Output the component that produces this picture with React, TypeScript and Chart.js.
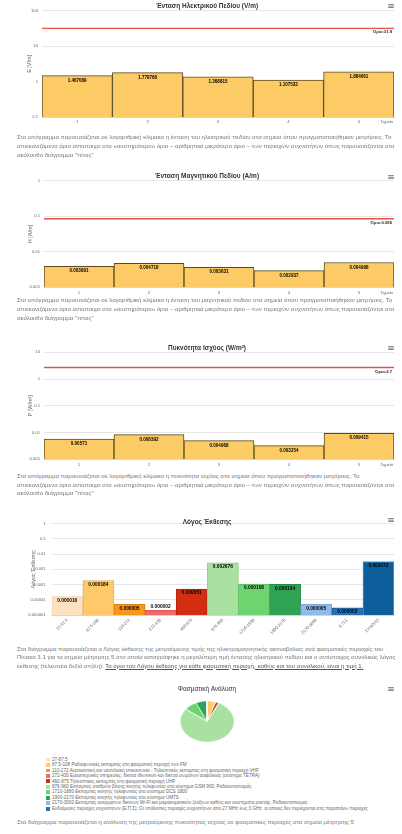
import React, { useEffect, useRef } from "react";
import { Chart, registerables } from "chart.js";

Chart.register(...registerables);

const FONT = '"Liberation Sans", Arial, Helvetica, sans-serif';

// ---- Charts 1-3: measurement points ----
const points = ["1", "2", "3", "4", "5"];
const eValues = [1.467089, 1.778768, 1.368815, 1.107533, 1.884061];
const hValues = [0.003891, 0.004718, 0.003631, 0.002937, 0.004998];
const sValues = [0.00571, 0.008392, 0.004968, 0.003254, 0.009415];
const eTicks = [0.1, 1, 10, 100];
const hTicks = [0.001, 0.01, 0.1, 1];
const sTicks = [0.001, 0.01, 0.1, 1, 10];
const eLimit = 31.9;
const hLimit = 0.085;
const sLimit = 2.7;

// ---- Chart 4: exposure ratio per band ----
const bands = ["27-87.5", "87.5-108", "110-272", "272-430", "460-875", "876-960", "1710-1880", "1900-2170", "2170-3000", "Ε.Π.Σ", "ΣΥΝΟΛΟ"];
const ratioValues = [0.000016, 0.000184, 0.000005, 0.000002, 0.000051, 0.002676, 0.000108, 0.000104, 0.000005, 0.000003, 0.003172];
const ratioTicks = [0.000001, 0.00001, 0.0001, 0.001, 0.01, 0.1, 1];

// ---- Pie: spectral analysis ----
const bandDescriptions = [
  "27-87.5",
  "87.5-108 Ραδιοφωνικές εκπομπές στη φασματική περιοχή των FM",
  "110-272 Αεροναυτική και ναυτιλιακή επικοινωνία - Τηλεοπτικές εκπομπές στη φασματική περιοχή VHF",
  "272-430 Ερασιτεχνικές υπηρεσίες, δίκτυα ιδιωτικών και δίκτυα σωμάτων ασφαλείας (σύστημα TETRA)",
  "460-875 Τηλεοπτικές εκπομπές στη φασματική περιοχή UHF",
  "876-960 Εκπομπές σταθμών βάσης κινητής τηλεφωνίας στο σύστημα GSM 900, Ραδιοεντοπισμός",
  "1710-1880 Εκπομπές κινητής τηλεφωνίας στο σύστημα DCS 1800",
  "1900-2170 Εκπομπές κινητής τηλεφωνίας στο σύστημα UMTS",
  "2170-3000 Εκπομπές ασύρματων δικτύων Wi-Fi και μικροκυματικών ζεύξεων καθώς και συστήματα ραντάρ, Ραδιοεντοπισμός",
  "Ενδιάμεσες περιοχές συχνοτήτων (Ε.Π.Σ): Οι υπόλοιπες περιοχές συχνοτήτων από 27 MHz έως 3 GHz, οι οποίες δεν περιέχονται στις παραπάνω περιοχές",
];
const pieShares = [0.3, 4.8, 0.3, 0.1, 1.7, 78, 8, 6.5, 0.2, 0.1];

const bandColors = ["#fde2c2", "#fdc96a", "#f7961c", "#f06c6a", "#d22e12", "#a9e2a0", "#6dd46f", "#2fa353", "#8fbbe6", "#2471b5", "#0f5e9c"];
const bandBorders = ["#f2cfa6", "#e9b24f", "#e07f0a", "#e05757", "#b82206", "#93d18a", "#5bc25e", "#24904a", "#7aa9d8", "#1b5f9e", "#5aa0d8"];

// ---------- plugins ----------
const limitLinePlugin = {
  id: "limitLine",
  afterDatasetsDraw(chart: any, _a: any, opts: any) {
    if (!opts || opts.value == null) return;
    const { ctx, chartArea } = chart;
    const y = chart.scales.y.getPixelForValue(opts.value);
    ctx.save();
    ctx.strokeStyle = "#e4514b";
    ctx.lineWidth = 1.3;
    ctx.beginPath();
    ctx.moveTo(chartArea.left, y);
    ctx.lineTo(chartArea.right, y);
    ctx.stroke();
    ctx.font = `bold 4.2px ${FONT}`;
    ctx.fillStyle = "#222";
    ctx.textAlign = "right";
    ctx.textBaseline = "middle";
    ctx.fillText(opts.text, chartArea.right - 2, y + 4);
    ctx.restore();
  },
};

const valueLabelsPlugin = {
  id: "valueLabels",
  afterDatasetsDraw(chart: any, _a: any, opts: any) {
    const { ctx } = chart;
    const meta = chart.getDatasetMeta(0);
    const data = chart.data.datasets[0].data;
    const size = (opts && opts.size) || 4.5;
    const off = (opts && opts.offset) || 5;
    ctx.save();
    ctx.font = `bold ${size}px ${FONT}`;
    ctx.fillStyle = "#000";
    ctx.textAlign = "center";
    ctx.textBaseline = "middle";
    meta.data.forEach((bar: any, i: number) => {
      const p = bar.getProps(["x", "y", "base"], true);
      const h = p.base - p.y;
      const ty = h < 6 ? p.y - 4 : p.y + off;
      ctx.fillText(String(data[i]), p.x, ty);
    });
    ctx.restore();
  },
};

const endLabelPlugin = {
  id: "endLabel",
  afterDraw(chart: any, _a: any, opts: any) {
    if (!opts || !opts.text) return;
    const { ctx, chartArea } = chart;
    ctx.save();
    ctx.font = `4.2px ${FONT}`;
    ctx.fillStyle = "#666";
    ctx.textAlign = "right";
    ctx.textBaseline = "middle";
    ctx.fillText(opts.text, chartArea.right - 1, chartArea.bottom + 5.2);
    ctx.restore();
  },
};

type BarCfg = {
  title: string;
  yTitle: string;
  labels: string[];
  values: number[];
  ticks: number[];
  colors: string | string[];
  borders: string | string[];
  limit?: number;
  limitText?: string;
  endText?: string;
  top: number;
  titleY: number;
  plotTop: number;
  plotBottom: number;
  plotLeft: number;
  yTitleX: number;
  xh: number;
  rotate: number;
  yTickPad: number;
  labelSize: number;
  labelOffset: number;
};

function canvasHeight(c: BarCfg) {
  return Math.ceil(c.plotBottom - c.top + c.xh);
}

function barConfig(c: BarCfg): any {
  const L = 20;
  const R = 8;
  const tfs = 6.5;
  const padTop = c.titleY - c.top - tfs / 2;
  const padBottom = c.plotTop - c.top - padTop - tfs;
  const H = canvasHeight(c);
  const xAxisH = H - (c.plotBottom - c.top);
  const yfs = 5.5;
  return {
    type: "bar",
    data: {
      labels: c.labels,
      datasets: [
        {
          data: c.values,
          backgroundColor: c.colors,
          borderColor: c.borders,
          borderWidth: 1,
          barPercentage: 1,
          categoryPercentage: 1,
        },
      ],
    },
    options: {
      responsive: false,
      animation: false,
      events: [],
      layout: { padding: { left: L, right: R, top: 0, bottom: 0 } },
      plugins: {
        legend: { display: false },
        tooltip: { enabled: false },
        title: {
          display: true,
          text: c.title,
          color: "#333",
          font: { family: FONT, size: tfs, weight: "bold", lineHeight: 1 },
          padding: { top: padTop, bottom: padBottom },
        },
        limitLine: { value: c.limit, text: c.limitText },
        valueLabels: { size: c.labelSize, offset: c.labelOffset },
        endLabel: { text: c.endText },
      },
      scales: {
        x: {
          type: "category",
          offset: true,
          grid: { display: false, drawTicks: false },
          border: { display: true, color: "#ccd6eb" },
          ticks: {
            color: "#666",
            font: { family: FONT, size: 4.2 },
            padding: 2.7,
            autoSkip: false,
            maxRotation: c.rotate,
            minRotation: c.rotate,
          },
          afterFit: (s: any) => {
            s.height = xAxisH;
          },
        },
        y: {
          type: "logarithmic",
          min: c.ticks[0],
          max: c.ticks[c.ticks.length - 1],
          afterBuildTicks: (s: any) => {
            s.ticks = c.ticks.map((v) => ({ value: v }));
          },
          ticks: {
            callback: (v: any) => String(v),
            color: "#666",
            font: { family: FONT, size: 4.2 },
            padding: c.yTickPad,
          },
          grid: { color: "#e6e6e6", drawTicks: false },
          border: { display: false },
          title: {
            display: true,
            text: c.yTitle,
            color: "#666",
            font: { family: FONT, size: yfs, lineHeight: 1 },
            padding: { top: c.yTitleX - L - yfs / 2, bottom: 0 },
          },
          afterFit: (s: any) => {
            s.width = c.plotLeft - L;
          },
        },
      },
    },
    plugins: [limitLinePlugin, valueLabelsPlugin, endLabelPlugin],
  };
}

const cfgE: BarCfg = {
  title: "Ένταση Ηλεκτρικού Πεδίου (V/m)",
  yTitle: "E [V/m]",
  labels: points,
  values: eValues,
  ticks: eTicks,
  colors: "#fdcb66",
  borders: "#5a4a22",
  limit: eLimit,
  limitText: "Όριο:" + eLimit,
  endText: "Σημεία",
  top: 0,
  titleY: 6,
  plotTop: 10.7,
  plotBottom: 117,
  plotLeft: 42,
  yTitleX: 29.5,
  xh: 8,
  rotate: 0,
  yTickPad: 4,
  labelSize: 4.5,
  labelOffset: 4.8,
};
const cfgH: BarCfg = {
  ...cfgE,
  title: "Ένταση Μαγνητικού Πεδίου (A/m)",
  yTitle: "H [A/m]",
  values: hValues,
  ticks: hTicks,
  limit: hLimit,
  limitText: "Όριο:" + hLimit,
  top: 171,
  titleY: 176.7,
  plotTop: 180.7,
  plotBottom: 287.3,
  plotLeft: 44,
  yTitleX: 30.5,
};
const cfgS: BarCfg = {
  ...cfgE,
  title: "Πυκνότητα Ισχύος (W/m²)",
  yTitle: "P [W/m²]",
  values: sValues,
  ticks: sTicks,
  limit: sLimit,
  limitText: "Όριο:" + sLimit,
  top: 342,
  titleY: 348.3,
  plotTop: 352.3,
  plotBottom: 459.3,
  plotLeft: 44,
  yTitleX: 30,
};
const cfgR: BarCfg = {
  title: "Λόγος Έκθεσης",
  yTitle: "Λόγος Έκθεσης",
  labels: bands,
  values: ratioValues,
  ticks: ratioTicks,
  colors: bandColors,
  borders: bandBorders,
  endText: "",
  top: 515,
  titleY: 520.7,
  plotTop: 521.7,
  plotBottom: 615,
  plotLeft: 51.7,
  yTitleX: 33,
  xh: 28,
  rotate: 45,
  yTickPad: 6,
  labelSize: 4.8,
  labelOffset: 4,
};

function pieConfig(): any {
  return {
    type: "pie",
    data: {
      labels: bandDescriptions,
      datasets: [
        {
          data: pieShares,
          backgroundColor: bandColors.slice(0, 10),
          borderColor: "#ffffff",
          borderWidth: 0.6,
          offset: pieShares.map((v) => (v === Math.max(...pieShares) ? 3 : 0)),
        },
      ],
    },
    options: {
      responsive: false,
      animation: false,
      events: [],
      layout: { padding: 0 },
      plugins: { legend: { display: false }, tooltip: { enabled: false } },
    },
  };
}

const para = (style: any, lines: any[], top: number, lh: number) =>
  lines.map((l, i) => (
    <div
      key={top + "_" + i}
      style={{
        ...style,
        position: "absolute",
        left: 17,
        top: top + i * lh - 4,
        height: 8,
        lineHeight: "8px",
        whiteSpace: "nowrap",
      }}
    >
      {l}
    </div>
  ));

const textStyle = { fontFamily: FONT, fontSize: 6.05, color: "#777" };

const commonL2 = "απεικονιζόμενο όριο αντιστοιχεί στο «αυστηρότερο» όριο – αριθμητικά μικρότερο όριο – των περιοχών συχνοτήτων όπως παρουσιάζονται στο";
const commonL3 = "ακόλουθο διάγραμμα \"πίτας\"";

export default function App() {
  const r1 = useRef<HTMLCanvasElement>(null);
  const r2 = useRef<HTMLCanvasElement>(null);
  const r3 = useRef<HTMLCanvasElement>(null);
  const r4 = useRef<HTMLCanvasElement>(null);
  const r5 = useRef<HTMLCanvasElement>(null);

  useEffect(() => {
    document.body.style.margin = "0";
    const charts = [
      new Chart(r1.current as HTMLCanvasElement, barConfig(cfgE)),
      new Chart(r2.current as HTMLCanvasElement, barConfig(cfgH)),
      new Chart(r3.current as HTMLCanvasElement, barConfig(cfgS)),
      new Chart(r4.current as HTMLCanvasElement, barConfig(cfgR)),
      new Chart(r5.current as HTMLCanvasElement, pieConfig()),
    ];
    return () => charts.forEach((c) => c.destroy());
  }, []);

  const cv = (ref: any, c: BarCfg) => (
    <canvas
      ref={ref}
      width={402}
      height={canvasHeight(c)}
      style={{ position: "absolute", left: 0, top: c.top }}
    />
  );

  const menu = (y: number) => (
    <div
      key={"m" + y}
      style={{
        position: "absolute",
        left: 386,
        top: y - 5,
        width: 10,
        height: 10,
        lineHeight: "10px",
        fontSize: 9,
        color: "#666",
        fontFamily: "DejaVu Sans, sans-serif",
        textAlign: "center",
      }}
    >
      ≡
    </div>
  );

  return (
    <div
      style={{
        position: "absolute",
        left: 0,
        top: 0,
        width: 402,
        height: 834,
        overflow: "hidden",
        background: "#fff",
      }}
    >
      {cv(r1, cfgE)}
      {cv(r2, cfgH)}
      {cv(r3, cfgS)}
      {cv(r4, cfgR)}
      {[6, 176.7, 348.3, 519.5, 689].map(menu)}

      {para(textStyle, [
        "Στο ιστόγραμμα παρουσιάζεται σε λογαριθμική κλίμακα η ένταση του ηλεκτρικού πεδίου στα σημεία όπου πραγματοποιήθηκαν μετρήσεις. Το",
        commonL2,
        commonL3,
      ], 136.5, 9)}
      {para(textStyle, [
        "Στο ιστόγραμμα παρουσιάζεται σε λογαριθμική κλίμακα η ένταση του μαγνητικού πεδίου στα σημεία όπου πραγματοποιήθηκαν μετρήσεις. Το",
        commonL2,
        commonL3,
      ], 299.5, 9)}
      {para(textStyle, [
        "Στο ιστόγραμμα παρουσιάζεται σε λογαριθμική κλίμακα η πυκνότητα ισχύος στα σημεία όπου πραγματοποιήθηκαν μετρήσεις. Το",
        commonL2,
        commonL3,
      ], 476, 8.5)}
      {para(textStyle, [
        "Στο διάγραμμα παρουσιάζεται ο Λόγος έκθεσης της μετρούμενης τιμής της ηλεκτρομαγνητικής ακτινοβολίας ανά φασματικές περιοχές του",
        "Πίνακα 3.1 για το σημείο μέτρησης 5 στο οποίο καταγράφηκε η μεγαλύτερη τιμή έντασης ηλεκτρικού πεδίου και ο αντίστοιχος συνολικός λόγος",
        <span key="u">
          έκθεσης (τελευταία δεξιά στήλη).{" "}
          <span style={{ textDecoration: "underline", color: "#555" }}>
            Το όριο του Λόγου έκθεσης για κάθε φασματική περιοχή, καθώς και του συνολικού, είναι η τιμή 1.
          </span>
        </span>,
      ], 648.5, 8.5)}

      <div
        style={{
          position: "absolute",
          left: 0,
          width: 414,
          top: 685,
          height: 8,
          lineHeight: "8px",
          textAlign: "center",
          fontFamily: FONT,
          fontSize: 6.5,
          color: "#333",
        }}
      >
        Φασματική Ανάλυση
      </div>
      <canvas
        ref={r5}
        width={56}
        height={56}
        style={{ position: "absolute", left: 179, top: 693, transform: "scaleY(0.76)" }}
      />

      {bandDescriptions.map((d, i) => (
        <div
          key={"lg" + i}
          style={{
            position: "absolute",
            left: 46,
            top: 759.3 + i * 5.49 - 2.75,
            height: 5.5,
            lineHeight: "5.5px",
            whiteSpace: "nowrap",
            fontFamily: FONT,
            fontSize: 4.6,
            color: "#666",
          }}
        >
          <span
            style={{
              display: "inline-block",
              width: 3.6,
              height: 3.6,
              marginRight: 2.4,
              background: bandColors[i],
              verticalAlign: "middle",
            }}
          />
          <span style={{ verticalAlign: "middle" }}>{d}</span>
        </div>
      ))}

      {para(textStyle, [
        "Στο διάγραμμα παρουσιάζεται η ανάλυση της μετρούμενης πυκνότητας ισχύος σε φασματικές περιοχές στο σημείο μέτρησης 5",
      ], 822, 8.5)}
    </div>
  );
}
